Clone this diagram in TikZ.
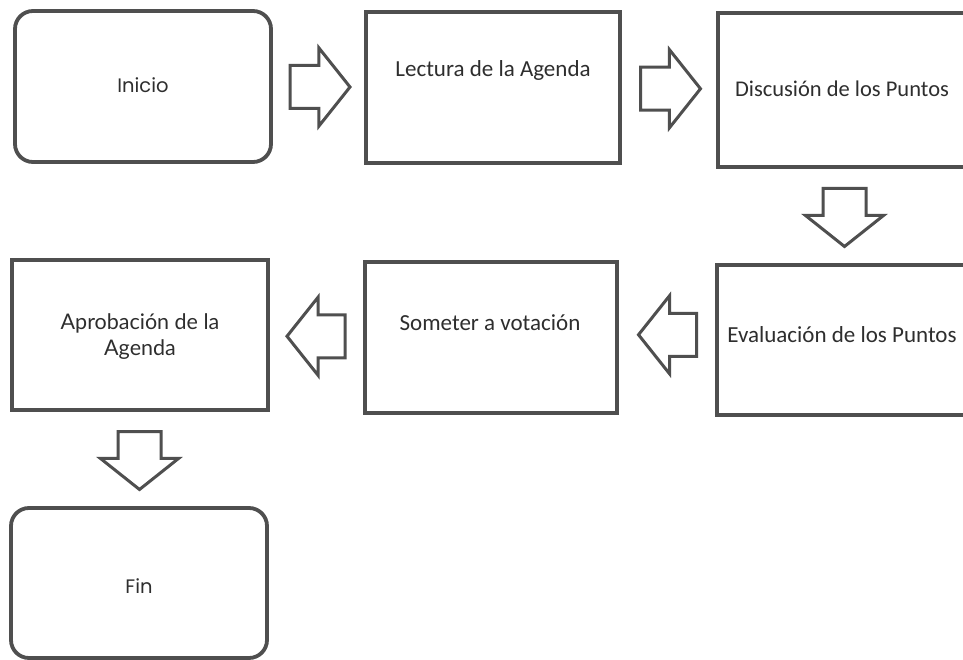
\documentclass[tikz,border=0pt]{standalone}
\usepackage{fontspec}
\setmainfont{Carlito}
\newfontfamily\geofont{Poppins}
\newfontfamily\latofont{Lato}
\usetikzlibrary{shapes.arrows,calc}
\definecolor{edgegray}{HTML}{4F4F4F}
\definecolor{inkgray}{HTML}{2E2E2E}
\tikzset{
  boxsq/.style={draw=edgegray, line width=3.8pt, rectangle, inner sep=0pt, fill=white},
  boxrd/.style={boxsq, rounded corners=18pt},
  blockarrow/.style={single arrow, draw=edgegray, line width=3pt, fill=white,
    inner xsep=0pt, inner ysep=20pt, anchor=tail,
    minimum height=58pt, single arrow head extend=17.5pt,
    single arrow tip angle=103},
  txt/.style={text=inkgray, inner sep=0pt, font=\fontsize{23}{27}\selectfont, align=center},
}
\begin{document}
\begin{tikzpicture}[x=1pt,y=-1pt]
\useasboundingbox (0,0) rectangle (963,660);
\clip (0,0) rectangle (963,660);
\fill[white] (0,0) rectangle (963,660);
% boxes
\node[boxrd, minimum width=256pt, minimum height=151pt] (inicio) at (143,86.5) {};
\node[boxsq, minimum width=254pt, minimum height=151pt] (lect) at (493,87.5) {};
\node[boxsq, minimum width=254pt, minimum height=154pt] (disc) at (845,90) {};
\node[boxsq, minimum width=254pt, minimum height=150pt] (eval) at (844,340) {};
\node[boxsq, minimum width=252pt, minimum height=151pt] (somet) at (491,337.5) {};
\node[boxsq, minimum width=256pt, minimum height=150pt] (aprob) at (140,335) {};
\node[boxrd, minimum width=256pt, minimum height=150pt] (fin) at (139,583) {};
% texts
\node[txt, font=\geofont\fontsize{19.5}{23}\selectfont] (tinicio) at (143,85) {Inicio};
\node[txt] (tlect) at (493,70) {Lectura de la Agenda};
\node[txt, font=\fontsize{22.5}{27}\selectfont] (tdisc) at (842,89) {Discusión de los Puntos};
\node[txt] (teval) at (842,335) {Evaluación de los Puntos};
\node[txt] (tsomet) at (490,323) {Someter a votación};
\node[txt, font=\latofont\fontsize{21.5}{26}\selectfont] (taprob) at (140,337) {Aprobación de la\\Agenda};
\node[txt, font=\geofont\fontsize{19.5}{23}\selectfont] (tfin) at (139,586) {Fin};
% block arrows (placed by their tails)
\node[blockarrow, minimum height=60pt] (a1) at ($(inicio.east)!0.5!(lect.west)+(-30,0)$) {};
\node[blockarrow, minimum height=60pt] (a2) at ($(lect.east)!0.5!(disc.west)+(-30,0)$) {};
\node[blockarrow, rotate=-90] (a3) at ($(disc.south)!0.5!(eval.north)+(0,-29)$) {};
\node[blockarrow, rotate=180] (a4) at ($(eval.west)!0.5!(somet.east)+(31,-4)$) {};
\node[blockarrow, rotate=180] (a5) at ($(somet.west)!0.5!(aprob.east)+(30,0)$) {};
\node[blockarrow, rotate=-90] (a6) at ($(aprob.south)!0.5!(fin.north)+(0,-29)$) {};
\end{tikzpicture}
\end{document}
